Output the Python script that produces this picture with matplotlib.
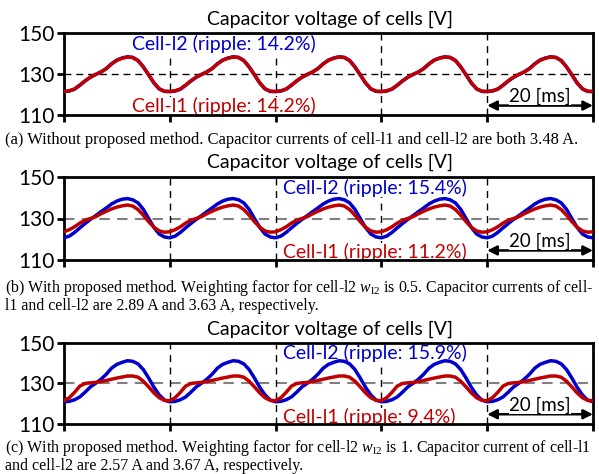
import numpy as np
import matplotlib
matplotlib.use("Agg")
import matplotlib.pyplot as plt

plt.rcParams['font.family'] = ['Lato', 'DejaVu Sans']
plt.rcParams['mathtext.fontset'] = 'custom'
plt.rcParams['mathtext.rm'] = 'Liberation Serif'
plt.rcParams['mathtext.it'] = 'Liberation Serif:italic'

# one 20 ms period of each waveform, read at 1 ms steps, repeated over 100 ms
n_periods = 5
period_t = np.arange(0, 20, 1.0)

a_l2 = [121.4, 121.7, 122.6, 124.5, 126.6, 128.4, 129.8, 131.0, 132.7, 135.0,
        136.8, 137.8, 138.4, 138.1, 136.6, 133.5, 129.6, 125.6, 122.7, 121.5]
a_l1 = [121.5, 121.8, 122.7, 124.6, 126.7, 128.5, 129.8, 131.0, 132.6, 134.9,
        136.7, 137.7, 138.3, 138.0, 136.5, 133.4, 129.6, 125.7, 122.8, 121.6]

b_l2 = [120.7, 121.5, 123.3, 125.5, 127.6, 129.6, 131.4, 133.3, 135.1, 137.0,
        138.4, 139.3, 139.6, 139.0, 137.5, 134.4, 130.0, 125.7, 122.5, 121.1]
b_l1 = [123.6, 124.6, 126.0, 127.8, 129.2, 130.0, 130.9, 132.3, 133.5, 134.6,
        135.5, 136.1, 136.5, 136.0, 134.3, 131.6, 128.5, 125.8, 124.0, 123.4]

c_l2 = [120.8, 121.0, 121.8, 123.2, 125.6, 128.2, 130.0, 132.0, 134.5, 137.5,
        139.4, 140.4, 141.2, 140.9, 139.6, 136.8, 132.6, 128.0, 124.2, 121.6]
c_l1 = [121.3, 122.8, 125.5, 128.6, 129.9, 130.2, 130.4, 130.8, 131.4, 132.0,
        132.6, 133.1, 133.6, 133.6, 133.0, 131.0, 128.2, 125.2, 122.8, 121.5]

ripple_labels = [("Cell-l2 (ripple: 14.2%)", "Cell-l1 (ripple: 14.2%)"),
                 ("Cell-l2 (ripple: 15.4%)", "Cell-l1 (ripple: 11.2%)"),
                 ("Cell-l2 (ripple: 15.9%)", "Cell-l1 (ripple: 9.4%)")]

captions = [
    "(a) Without proposed method. Capacitor currents of cell-l1 and cell-l2 are both 3.48 A.",
    "(b) With proposed method. Weighting factor for cell-l2 $w_{\\rm l2}$ is 0.5. Capacitor currents of cell-\n"
    "l1 and cell-l2 are 2.89 A and 3.63 A, respectively.",
    "(c) With proposed method. Weighting factor for cell-l2 $w_{\\rm l2}$ is 1. Capacitor current of cell-l1\n"
    "and cell-l2 are 2.57 A and 3.67 A, respectively.",
]

title = "Capacitor voltage of cells [V]"
yticks = [110, 130, 150]
xticks = [0, 20, 40, 60, 80, 100]

blue = '#0000CC'
red = '#C00000'

W, H = 599, 474
fig = plt.figure(figsize=(W / 100, H / 100), dpi=100)

# axes boxes in pixels: (top, bottom)
boxes = [(33, 115), (177, 260), (343, 423.5)]
title_y = [25, 168, 335]
caption_top = [132, 278, 438]
caption_size = [11.9, 11.45, 11.5]
label_x = [12.9, 41.4, 41.4]
label_v = [(144.6, 114.4), (144.8, 113.9), (145.0, 113.2)]
series = [(a_l2, a_l1), (b_l2, b_l1), (c_l2, c_l1)]
hline_style = [('black', 1.0), ('#808080', 1.5), ('#808080', 1.5)]

t = np.append(np.concatenate([period_t + 20 * k for k in range(n_periods)]), 100)

for i, ((top, bot), (v2, v1)) in enumerate(zip(boxes, series)):
    ax = fig.add_axes([64 / W, 1 - bot / H, (593 - 64) / W, (bot - top) / H])
    y2 = np.append(np.tile(v2, n_periods), v2[0])
    y1 = np.append(np.tile(v1, n_periods), v1[0])

    hc, hw = hline_style[i]
    ax.axhline(130, color=hc, lw=hw, dashes=(5, 3.5), zorder=1)
    for xv in xticks[1:-1]:
        ax.axvline(xv, color='black', lw=1.0, dashes=(5, 4), zorder=1)

    bbox = dict(facecolor='white', edgecolor='none', pad=0)
    ax.text(label_x[i], label_v[i][0], ripple_labels[i][0], color=blue, fontsize=14,
            va='center', ha='left', bbox=bbox, zorder=2)
    ax.text(label_x[i], label_v[i][1], ripple_labels[i][1], color=red, fontsize=14,
            va='center', ha='left', bbox=bbox, zorder=2)

    ax.plot(t, y2, color=blue, lw=2.5, zorder=3, solid_capstyle='round')
    ax.plot(t, y1, color=red, lw=2.5, zorder=4, solid_capstyle='round')

    ax.annotate('', xy=(80, 114.6), xytext=(100, 114.6),
                arrowprops=dict(arrowstyle='<|-|>', color='black', lw=1.8,
                                mutation_scale=14, shrinkA=0, shrinkB=0), zorder=5)
    ax.text(90, 119.0, "20 [ms]", fontsize=13.5, ha='center', va='center',
            bbox=bbox, zorder=5)

    ax.set_xlim(0, 100)
    ax.set_ylim(110, 150)
    ax.set_xticks(xticks)
    ax.set_xticklabels([])
    ax.set_yticks(yticks)
    ax.tick_params(direction='out', length=5, width=2, labelsize=15, pad=2)
    for s in ax.spines.values():
        s.set_linewidth(2)

    fig.text(330 / W, 1 - title_y[i] / H, title, fontsize=14, ha='center', va='baseline')
    fig.text(5 / W, 1 - caption_top[i] / H, captions[i], family='Liberation Serif',
             fontsize=caption_size[i], ha='left', va='top', linespacing=1.0)

fig.savefig('out.png', dpi=100)
